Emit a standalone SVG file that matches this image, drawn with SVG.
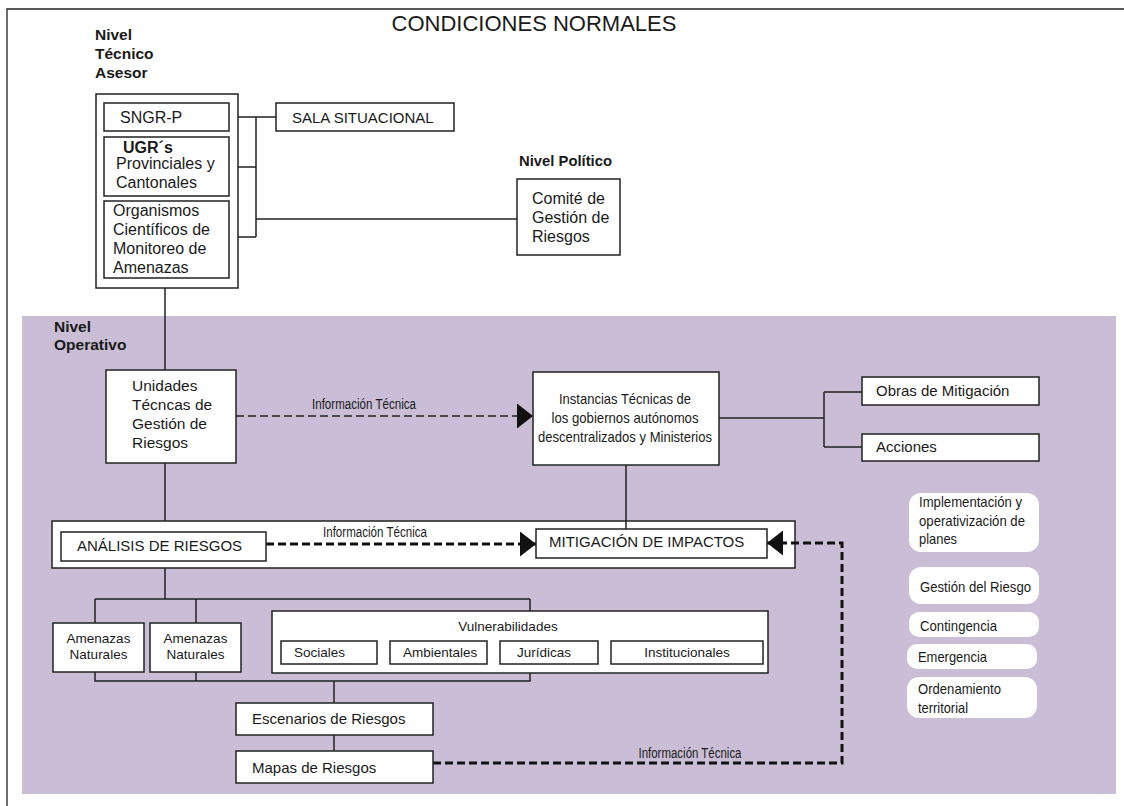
<svg xmlns="http://www.w3.org/2000/svg" width="1124" height="806" viewBox="0 0 1124 806">
<defs>
<style>
.t{font-family:"Liberation Sans",Arial,sans-serif;fill:#1a1a1a}
.b{font-weight:bold}
.box{fill:#fff;stroke:#222;stroke-width:1.5}
.pill{fill:#fff;stroke:none}
.ln{fill:none;stroke:#222;stroke-width:1.5}
.dash{fill:none;stroke:#222;stroke-width:1.6;stroke-dasharray:8 4}
.dash2{fill:none;stroke:#111;stroke-width:3;stroke-dasharray:8 4}
.nw{font-size:15px}
.lbl{font-size:14px}
</style>
<marker id="ah" markerUnits="userSpaceOnUse" markerWidth="16" markerHeight="25" viewBox="0 0 16 25" refX="16" refY="12.5" orient="auto"><path d="M0,0L16,12.5L0,25z" fill="#111"/></marker>
</defs>
<rect x="0" y="0" width="1124" height="806" fill="#fff"/>
<path d="M7,806V9H1124" fill="none" stroke="#222" stroke-width="1.3"/>
<rect id="zona-operativa" x="22" y="316" width="1094" height="478" fill="#c9bed6"/>
<text class="t" x="534" y="31" font-size="22" text-anchor="middle">CONDICIONES NORMALES</text>

<g id="titulo-tecnico">
<text class="t b" x="95" y="40" font-size="15.5">Nivel</text>
<text class="t b" x="95" y="59" font-size="15.5">Técnico</text>
<text class="t b" x="95" y="78" font-size="15.5">Asesor</text>
</g>
<g id="titulo-politico"><text class="t b" x="519" y="166" font-size="14" textLength="93" lengthAdjust="spacingAndGlyphs">Nivel Político</text></g>
<g id="titulo-operativo">
<text class="t b" x="54" y="332" font-size="15.5">Nivel</text>
<text class="t b" x="54" y="350" font-size="15.5">Operativo</text>
</g>

<g id="banda-analisis"><rect class="box" x="52" y="521" width="743" height="47"/></g>

<g id="connectors">
<path class="ln" d="M229,117H276M256,117V237M229,167H256M229,237H256M256,219H517"/>
<path class="ln" d="M165,288V370M165,463V521M165,568V599"/>
<path class="ln" d="M95,599H530M95,599V623M196,599V623M530,599V611"/>
<path class="ln" d="M95,672V681H530V672M196,672V681M334,681V703M334,735V751"/>
<path class="ln" d="M719,418H824M824,392V447M824,392H862M824,447H862M626,465V529"/>
<path class="dash" d="M236,416H533" marker-end="url(#ah)"/>
<path class="dash2" d="M266,544H536" marker-end="url(#ah)"/>
<path class="dash2" d="M433,763H842V543H767" marker-end="url(#ah)"/>
<text class="t lbl" x="364" y="409" text-anchor="middle" textLength="104" lengthAdjust="spacingAndGlyphs">Información Técnica</text>
<text class="t lbl" x="375" y="537" text-anchor="middle" textLength="104" lengthAdjust="spacingAndGlyphs">Información Técnica</text>
<text class="t lbl" x="690" y="758" text-anchor="middle" textLength="103" lengthAdjust="spacingAndGlyphs">Información Técnica</text>
</g>

<g id="nivel-tecnico-asesor"><rect class="box" x="96" y="94" width="142" height="194"/></g>
<g id="sngr-p"><rect class="box" x="104" y="103" width="125" height="28"/><text class="t" x="120" y="123" font-size="16">SNGR-P</text></g>
<g id="ugrs"><rect class="box" x="104" y="137" width="125" height="59"/>
<text class="t b" x="123" y="153" font-size="16">UGR´s</text>
<text class="t" x="116" y="169" font-size="16">Provinciales y</text>
<text class="t" x="116" y="188" font-size="16">Cantonales</text></g>
<g id="organismos"><rect class="box" x="104" y="201" width="125" height="77"/>
<text class="t" x="113" y="216" font-size="16">Organismos</text>
<text class="t" x="113" y="235" font-size="16">Científicos de</text>
<text class="t" x="113" y="254" font-size="16">Monitoreo de</text>
<text class="t" x="113" y="273" font-size="16">Amenazas</text></g>
<g id="sala-situacional"><rect class="box" x="276" y="103" width="178" height="28"/><text class="t" x="292" y="123" font-size="15">SALA SITUACIONAL</text></g>
<g id="comite"><rect class="box" x="517" y="179" width="103" height="76"/>
<text class="t" x="532" y="204" font-size="16">Comité de</text>
<text class="t" x="532" y="223" font-size="16">Gestión de</text>
<text class="t" x="532" y="242" font-size="16">Riesgos</text></g>

<g id="unidades"><rect class="box" x="106" y="370" width="130" height="93"/>
<text class="t" x="132" y="391" font-size="15.5">Unidades</text>
<text class="t" x="132" y="410" font-size="15.5">Técncas de</text>
<text class="t" x="132" y="429" font-size="15.5">Gestión de</text>
<text class="t" x="132" y="448" font-size="15.5">Riesgos</text></g>
<g id="instancias"><rect class="box" x="533" y="372" width="186" height="93"/>
<text class="t nw" x="625" y="404" text-anchor="middle" textLength="132" lengthAdjust="spacingAndGlyphs">Instancias Técnicas de</text>
<text class="t nw" x="625" y="423" text-anchor="middle" textLength="147" lengthAdjust="spacingAndGlyphs">los gobiernos autónomos</text>
<text class="t nw" x="625" y="442" text-anchor="middle" textLength="174" lengthAdjust="spacingAndGlyphs">descentralizados y Ministerios</text></g>
<g id="obras"><rect class="box" x="862" y="377" width="177" height="28"/><text class="t" x="876" y="396" font-size="15">Obras de Mitigación</text></g>
<g id="acciones"><rect class="box" x="862" y="434" width="177" height="27"/><text class="t" x="876" y="452" font-size="15">Acciones</text></g>

<g id="analisis"><rect class="box" x="61" y="532" width="205" height="29"/><text class="t" x="77" y="551" font-size="15">ANÁLISIS DE RIESGOS</text></g>
<g id="mitigacion"><rect class="box" x="536" y="529" width="231" height="29"/><text class="t" x="549" y="547" font-size="15">MITIGACIÓN DE IMPACTOS</text></g>

<g id="amenazas-1"><rect class="box" x="53" y="623" width="91" height="49"/>
<text class="t" x="98.5" y="643" font-size="13.5" text-anchor="middle">Amenazas</text>
<text class="t" x="98.5" y="659" font-size="13.5" text-anchor="middle">Naturales</text></g>
<g id="amenazas-2"><rect class="box" x="150" y="623" width="91" height="49"/>
<text class="t" x="195.5" y="643" font-size="13.5" text-anchor="middle">Amenazas</text>
<text class="t" x="195.5" y="659" font-size="13.5" text-anchor="middle">Naturales</text></g>
<g id="vulnerabilidades"><rect class="box" x="272" y="611" width="496" height="62"/>
<text class="t" x="508" y="631" font-size="13.5" text-anchor="middle">Vulnerabilidades</text></g>
<g id="sociales"><rect class="box" x="281" y="641" width="96" height="23"/><text class="t" x="294" y="657" font-size="13.5">Sociales</text></g>
<g id="ambientales"><rect class="box" x="390" y="641" width="97" height="23"/><text class="t" x="403" y="657" font-size="13.5">Ambientales</text></g>
<g id="juridicas"><rect class="box" x="500" y="641" width="98" height="23"/><text class="t" x="517" y="657" font-size="13.5">Jurídicas</text></g>
<g id="institucionales"><rect class="box" x="611" y="641" width="152" height="23"/><text class="t" x="687" y="657" font-size="13.5" text-anchor="middle">Institucionales</text></g>
<g id="escenarios"><rect class="box" x="236" y="703" width="197" height="32"/><text class="t" x="252" y="724" font-size="15">Escenarios de Riesgos</text></g>
<g id="mapas"><rect class="box" x="236" y="751" width="197" height="32"/><text class="t" x="252" y="773" font-size="15">Mapas de Riesgos</text></g>

<g id="implementacion"><rect class="pill" x="909" y="493" width="130" height="59" rx="12"/>
<text class="t nw" x="919" y="507" textLength="103" lengthAdjust="spacingAndGlyphs">Implementación y</text>
<text class="t nw" x="919" y="526" textLength="106" lengthAdjust="spacingAndGlyphs">operativización de</text>
<text class="t nw" x="919" y="544" textLength="38" lengthAdjust="spacingAndGlyphs">planes</text></g>
<g id="gestion-riesgo"><rect class="pill" x="909" y="567" width="130" height="37" rx="12"/>
<text class="t nw" x="920" y="592" textLength="111" lengthAdjust="spacingAndGlyphs">Gestión del Riesgo</text></g>
<g id="contingencia"><rect class="pill" x="909" y="612" width="130" height="25" rx="10"/>
<text class="t nw" x="920" y="631" textLength="77" lengthAdjust="spacingAndGlyphs">Contingencia</text></g>
<g id="emergencia"><rect class="pill" x="907" y="644" width="130" height="25" rx="10"/>
<text class="t nw" x="918" y="662" textLength="69" lengthAdjust="spacingAndGlyphs">Emergencia</text></g>
<g id="ordenamiento"><rect class="pill" x="907" y="677" width="130" height="41" rx="12"/>
<text class="t nw" x="918" y="694" textLength="83" lengthAdjust="spacingAndGlyphs">Ordenamiento</text>
<text class="t nw" x="918" y="713" textLength="50" lengthAdjust="spacingAndGlyphs">territorial</text></g>
</svg>
